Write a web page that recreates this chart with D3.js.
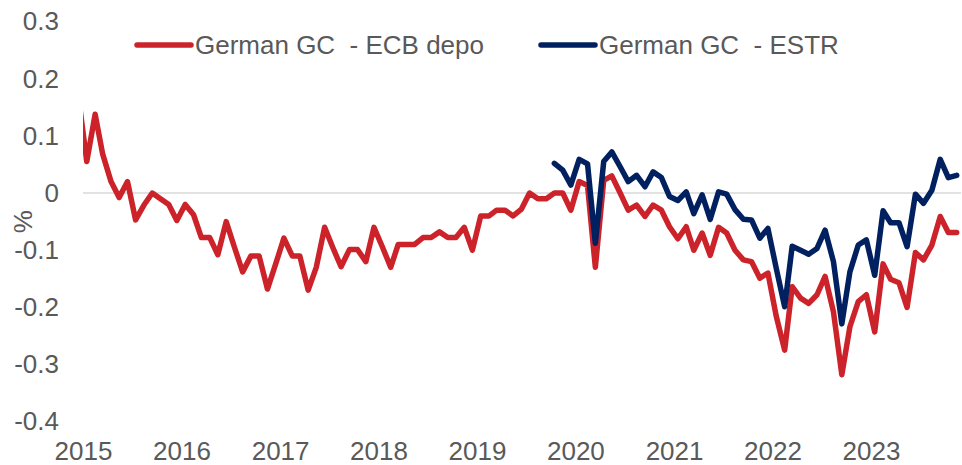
<!DOCTYPE html>
<html>
<head>
<meta charset="utf-8">
<script src="https://cdn.jsdelivr.net/npm/d3@7"></script>
<style>
  body { margin: 0; background: #fff; }
  text { font-family: "Liberation Sans", Arial, sans-serif; fill: #595959; }
</style>
</head>
<body>
<div id="chart"></div>
<script>
// monthly readings, mid-month, first point (Dec 2014) sits left of the plot and is clipped
var ecbStart = "2014-12-15";
var ecbDepo = [
  0.17,
  0.055, 0.138, 0.068, 0.02, -0.008, 0.02, -0.047, -0.021, 0.0, -0.01, -0.02, -0.048,
  -0.02, -0.038, -0.078, -0.078, -0.108, -0.05, -0.094, -0.138, -0.11, -0.11, -0.168, -0.125,
  -0.079, -0.11, -0.11, -0.17, -0.13, -0.06, -0.095, -0.129, -0.099, -0.099, -0.12, -0.06,
  -0.094, -0.13, -0.09, -0.09, -0.09, -0.078, -0.078, -0.068, -0.078, -0.078, -0.06, -0.1,
  -0.04, -0.04, -0.03, -0.03, -0.04, -0.028, 0.0, -0.01, -0.01, 0.0, 0.0, -0.03,
  0.02, 0.013, -0.13, 0.022, 0.03, 0.0, -0.03, -0.021, -0.041, -0.021, -0.03, -0.059,
  -0.08, -0.059, -0.1, -0.07, -0.109, -0.06, -0.07, -0.1, -0.117, -0.12, -0.149, -0.14,
  -0.216, -0.275, -0.164, -0.184, -0.193, -0.178, -0.146, -0.208, -0.318, -0.234, -0.19, -0.178,
  -0.243, -0.124, -0.151, -0.157, -0.2, -0.104, -0.117, -0.091, -0.041, -0.069, -0.069
];

var estrStart = "2019-10-15";
var estr = [
  0.052, 0.04, 0.014,
  0.059, 0.051, -0.088, 0.055, 0.072, 0.046, 0.02, 0.031, 0.011, 0.037, 0.027, -0.006,
  -0.013, 0.002, -0.036, -0.003, -0.046, 0.002, -0.002, -0.029, -0.046, -0.047, -0.079, -0.062,
  -0.132, -0.199, -0.093, -0.1, -0.107, -0.097, -0.065, -0.12, -0.229, -0.138, -0.091, -0.082,
  -0.144, -0.031, -0.052, -0.052, -0.094, -0.002, -0.018, 0.005, 0.059, 0.027, 0.031
];

var yTicks = [-0.4, -0.3, -0.2, -0.1, 0, 0.1, 0.2, 0.3];
var yearTicks = ["2015", "2016", "2017", "2018", "2019", "2020", "2021", "2022", "2023"];

var seriesNames = ["German GC  - ECB depo", "German GC  - ESTR"];
var seriesColors = ["#CC2229", "#002060"];

var width = 962, height = 465;
var plot = {left: 83, right: 961, top: 21.6, bottom: 421.6};

var parseDay = d3.timeParse("%Y-%m-%d");
var parseYear = d3.timeParse("%Y");

function toPoints(start, values) {
  var d0 = parseDay(start);
  return values.map(function(v, i) {
    return {date: d3.timeMonth.offset(d0, i), value: v};
  });
}

var svg = d3.select("#chart")
  .append("svg")
  .attr("width", width)
  .attr("height", height);

var x = d3.scaleTime()
  .domain([parseDay("2015-01-01"), parseDay("2023-12-01")])
  .range([plot.left, plot.right]);

var y = d3.scaleLinear()
  .domain([-0.4, 0.3])
  .range([plot.bottom, plot.top]);

svg.append("defs").append("clipPath")
  .attr("id", "plotclip")
  .append("rect")
  .attr("x", plot.left)
  .attr("y", 0)
  .attr("width", plot.right - plot.left + 4)
  .attr("height", height);

// zero line only
svg.append("line")
  .attr("x1", plot.left)
  .attr("x2", plot.right)
  .attr("y1", y(0))
  .attr("y2", y(0))
  .attr("stroke", "#d9d9d9")
  .attr("stroke-width", 1.5);

var yAxis = svg.append("g")
  .attr("transform", "translate(" + plot.left + ",0)")
  .call(d3.axisLeft(y)
    .tickValues(yTicks)
    .tickSize(0)
    .tickPadding(24)
    .tickFormat(function(d) { return d === 0 ? "0" : d.toFixed(1); }));
yAxis.select(".domain").remove();
yAxis.selectAll("text")
  .style("font-size", "26px")
  .style("fill", "#595959")
  .style("font-family", "Liberation Sans, Arial, sans-serif");

var xAxis = svg.append("g")
  .attr("transform", "translate(0," + plot.bottom + ")")
  .call(d3.axisBottom(x)
    .tickValues(yearTicks.map(function(t) { return parseYear(t); }))
    .tickSize(0)
    .tickPadding(20)
    .tickFormat(d3.timeFormat("%Y")));
xAxis.select(".domain").remove();
xAxis.selectAll("text")
  .style("font-size", "26px")
  .style("fill", "#595959")
  .style("font-family", "Liberation Sans, Arial, sans-serif");

svg.append("text")
  .attr("transform", "translate(23," + ((plot.top + plot.bottom) / 2) + ") rotate(-90)")
  .attr("text-anchor", "middle")
  .attr("dy", "0.35em")
  .style("font-size", "26px")
  .text("%");

var line = d3.line()
  .x(function(d) { return x(d.date); })
  .y(function(d) { return y(d.value); });

var series = [toPoints(ecbStart, ecbDepo), toPoints(estrStart, estr)];

svg.append("g")
  .attr("clip-path", "url(#plotclip)")
  .selectAll("path")
  .data(series)
  .enter()
  .append("path")
  .attr("d", line)
  .attr("fill", "none")
  .attr("stroke", function(d, i) { return seriesColors[i]; })
  .attr("stroke-width", 5.5)
  .attr("stroke-linejoin", "round")
  .attr("stroke-linecap", "round");

// legend
var legendX = [137, 541];
var legend = svg.append("g");
seriesNames.forEach(function(name, i) {
  legend.append("line")
    .attr("x1", legendX[i])
    .attr("x2", legendX[i] + 54)
    .attr("y1", 45)
    .attr("y2", 45)
    .attr("stroke", seriesColors[i])
    .attr("stroke-width", 5.5)
    .attr("stroke-linecap", "round");
  legend.append("text")
    .attr("x", legendX[i] + 58)
    .attr("y", 54)
    .style("font-size", "26px")
    .style("white-space", "pre")
    .text(name);
});
</script>
</body>
</html>
